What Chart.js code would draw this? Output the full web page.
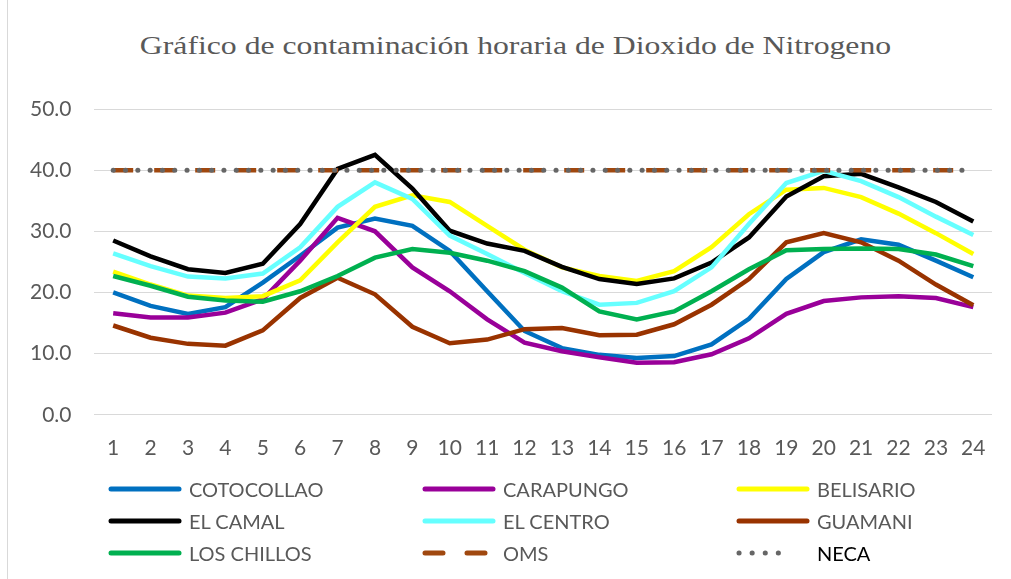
<!DOCTYPE html>
<html lang="es">
<head>
<meta charset="UTF-8">
<title>Dioxido de Nitrogeno</title>
<script src="https://cdn.jsdelivr.net/npm/chart.js"></script>
<style>
    body { margin: 0; background: #fff; }
    .wrap {
        position: relative;
        width: 1011px;
        height: 579px;
        overflow: hidden;
    }
    .frame {
        position: absolute;
        left: 7px; top: 0;
        width: 1px; height: 579px;
        background: #d9d9d9;
    }
    #chart { position: absolute; left: 0; top: 0; }
    .title {
        position: absolute;
        left: 0; top: 31px;
        width: 1011px;
        text-align: center;
        font-family: "Liberation Serif", "Times New Roman", serif;
        font-size: 26px;
        color: #595959;
        transform: translateX(10px) scaleX(1.22);
        white-space: nowrap;
    }
    .legend {
        position: absolute;
        left: 0; top: 0;
        width: 1011px; height: 579px;
        pointer-events: none;
        font-family: Lato, sans-serif;
        font-size: 20px;
        color: #595959;
    }
    .item { position: absolute; display: flex; align-items: center; height: 24px; }
    .item svg { margin-right: 6px; }
</style>
</head>
<body>
<div class="wrap">
    <div class="frame"></div>
    <div class="title">Gráfico de contaminación horaria de Dioxido de Nitrogeno</div>
    <canvas id="chart" width="1011" height="579"></canvas>
    <div class="legend" id="legend"></div>
</div>
<script>
const hours = ['1','2','3','4','5','6','7','8','9','10','11','12','13','14','15','16','17','18','19','20','21','22','23','24'];

const cotocollao = [20.0, 17.8, 16.5, 17.6, 21.6, 26.0, 30.6, 32.1, 30.9, 26.8, 20.2, 13.7, 10.9, 9.8, 9.3, 9.6, 11.5, 15.7, 22.2, 26.6, 28.7, 27.8, 25.2, 22.5];
const carapungo  = [16.6, 15.9, 15.9, 16.7, 18.9, 25.2, 32.2, 30.0, 24.1, 20.2, 15.6, 11.8, 10.4, 9.4, 8.5, 8.6, 9.9, 12.5, 16.5, 18.6, 19.2, 19.4, 19.1, 17.6];
const belisario  = [23.4, 21.3, 19.5, 19.1, 19.4, 22.0, 28.2, 34.0, 35.9, 34.8, 30.9, 27.0, 24.1, 22.7, 21.9, 23.5, 27.4, 32.8, 36.8, 37.1, 35.6, 32.9, 29.7, 26.3];
const elCamal    = [28.5, 25.9, 23.8, 23.2, 24.7, 31.2, 40.2, 42.5, 37.0, 30.1, 28.0, 26.8, 24.2, 22.2, 21.4, 22.3, 24.9, 29.0, 35.7, 39.0, 39.4, 37.2, 34.8, 31.6];
const elCentro   = [26.4, 24.3, 22.6, 22.3, 23.1, 27.4, 34.0, 38.0, 35.3, 29.3, 26.3, 23.2, 20.2, 18.0, 18.3, 20.2, 24.1, 31.2, 37.9, 39.9, 38.2, 35.6, 32.4, 29.4];
const guamani    = [14.6, 12.6, 11.6, 11.3, 13.8, 19.1, 22.4, 19.7, 14.4, 11.7, 12.3, 14.0, 14.2, 13.0, 13.1, 14.8, 18.0, 22.2, 28.2, 29.7, 28.2, 25.2, 21.3, 17.9];
const losChillos = [22.7, 21.1, 19.3, 18.7, 18.5, 20.2, 22.7, 25.7, 27.1, 26.5, 25.2, 23.5, 20.8, 16.9, 15.6, 16.9, 20.2, 23.8, 26.9, 27.1, 27.2, 27.1, 26.2, 24.3];
const oms        = hours.map(() => 40);
const neca       = hours.map(() => 40);

const yTicks = [0, 10, 20, 30, 40, 50];

const series = [
    { label: 'COTOCOLLAO', data: cotocollao, color: '#0070c0' },
    { label: 'CARAPUNGO', data: carapungo, color: '#990099' },
    { label: 'BELISARIO', data: belisario, color: '#ffff00' },
    { label: 'EL CAMAL', data: elCamal, color: '#000000' },
    { label: 'EL CENTRO', data: elCentro, color: '#66ffff' },
    { label: 'GUAMANI', data: guamani, color: '#993300' },
    { label: 'LOS CHILLOS', data: losChillos, color: '#00b050' },
    { label: 'OMS', data: oms, color: '#a0480f', dash: [20, 21] },
    { label: 'NECA', data: neca, color: '#666666', dash: [0.1, 12.2], round: true, width: 5 }
];

const datasets = series.map((s, i) => ({
    label: s.label,
    data: s.data,
    borderColor: s.color,
    backgroundColor: s.color,
    borderWidth: s.width || 4.5,
    borderDash: s.dash || [],
    borderCapStyle: s.round ? 'round' : 'butt',
    pointRadius: 0,
    tension: 0,
    fill: false,
    order: series.length - i
}));

new Chart(document.getElementById('chart'), {
    type: 'line',
    data: { labels: hours, datasets: datasets },
    options: {
        responsive: false,
        animation: false,
        layout: { padding: { left: 7, right: 19, top: 109, bottom: 105 } },
        plugins: {
            legend: { display: false },
            tooltip: { enabled: false }
        },
        scales: {
            x: {
                offset: true,
                grid: { display: false },
                border: { display: false },
                ticks: { color: '#595959', font: { family: 'Lato', size: 21 }, padding: 13, maxRotation: 0 }
            },
            y: {
                min: 0,
                max: 50,
                afterBuildTicks: axis => { axis.ticks = yTicks.map(v => ({ value: v })); },
                grid: { color: '#d9d9d9', lineWidth: 1, drawTicks: false },
                border: { display: false },
                ticks: {
                    color: '#595959',
                    font: { family: 'Lato', size: 21 },
                    padding: 23,
                    callback: v => v.toFixed(1)
                }
            }
        }
    }
});

// legend laid out in three columns like the original
const cols = [107, 421, 735];
const rows = [489, 521, 553];
const legend = document.getElementById('legend');
series.forEach((s, i) => {
    const item = document.createElement('div');
    item.className = 'item';
    item.style.left = cols[i % 3] + 'px';
    item.style.top = (rows[Math.floor(i / 3)] - 12) + 'px';
    const w = 76;
    let line;
    if (s.label === 'NECA') {
        line = `<line x1="4" y1="6" x2="56" y2="6" stroke="${s.color}" stroke-width="5" stroke-linecap="round" stroke-dasharray="0.1 13"/>`;
    } else if (s.label === 'OMS') {
        line = `<line x1="4" y1="6" x2="${w - 4}" y2="6" stroke="${s.color}" stroke-width="5" stroke-linecap="round" stroke-dasharray="18 24"/>`;
    } else {
        line = `<line x1="4" y1="6" x2="${w - 4}" y2="6" stroke="${s.color}" stroke-width="5" stroke-linecap="round"/>`;
    }
    const textColor = s.label === 'NECA' ? '#000' : '#595959';
    item.innerHTML = `<svg width="${w}" height="12">${line}</svg><span style="color:${textColor}">${s.label}</span>`;
    legend.appendChild(item);
});
</script>
</body>
</html>
